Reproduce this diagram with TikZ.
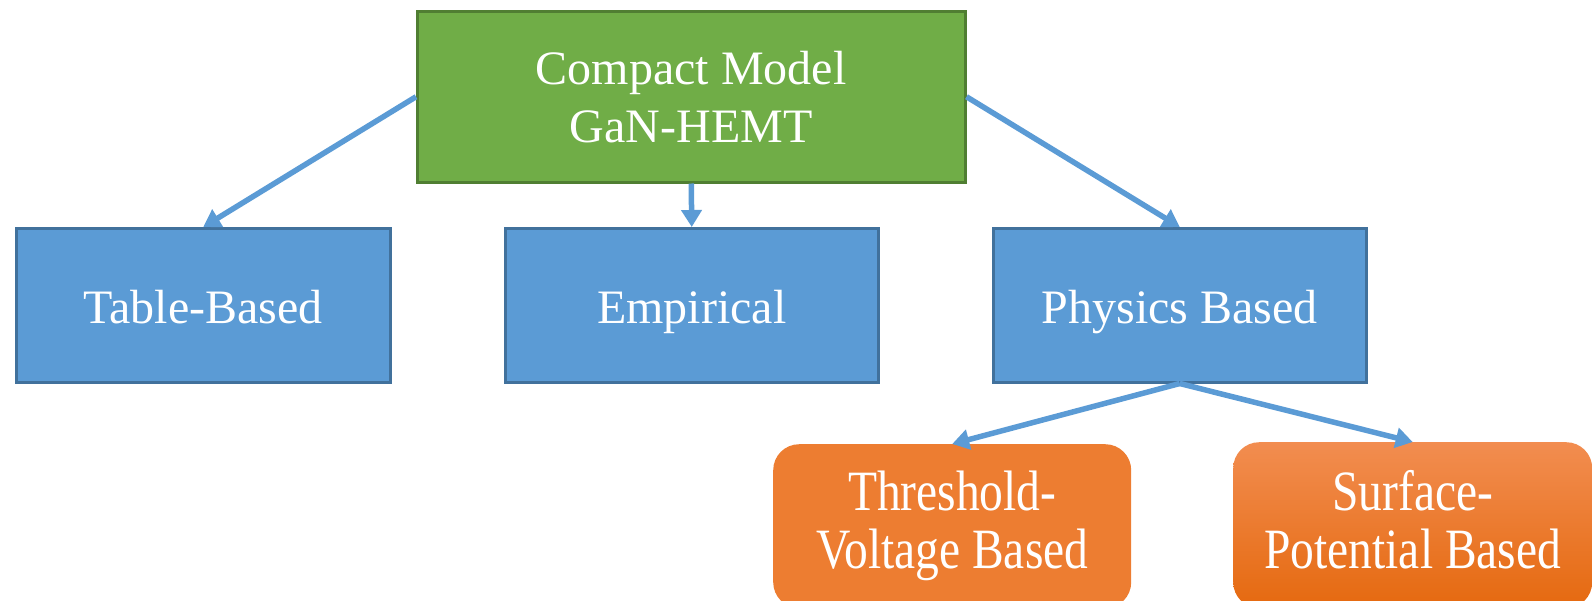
\documentclass[tikz,border=0pt]{standalone}
\usepackage{fontspec}
\setmainfont{Liberation Serif}
\newfontfamily\boxfont{Liberation Serif}
\usetikzlibrary{arrows.meta}
\definecolor{gfill}{HTML}{70AD47}
\definecolor{gline}{HTML}{507E32}
\definecolor{bfill}{HTML}{5B9BD5}
\definecolor{bline}{HTML}{41719C}
\definecolor{ofill}{HTML}{ED7D31}
\definecolor{otop}{HTML}{F28D50}
\definecolor{obot}{HTML}{E5690F}
\begin{document}
\begin{tikzpicture}[x=1pt,y=-1pt,
  box/.style={draw, line width=2.5pt, inner sep=0pt, anchor=north west,
    text=white, align=center, font=\boxfont\fontsize{48}{58}\selectfont},
  greenbox/.style={box, fill=gfill, draw=gline},
  bluebox/.style={box, fill=bfill, draw=bline, text height=40pt, text depth=3pt},
  orangebox/.style={inner sep=0pt, anchor=north west, rounded corners=26pt},
  tallline/.style={anchor=base, inner sep=0pt, text=white,
    font=\boxfont\fontsize{47.5}{58}\selectfont},
  link/.style={draw=bfill, line width=5.5pt,
    -{Triangle[length=17pt,width=20pt]}}]
\useasboundingbox (0,0) rectangle (1593,600);

\node[greenbox, minimum width=548pt, minimum height=171pt] (top) at (416,10)
  {Compact Model\\GaN-HEMT};

\node[bluebox, minimum width=374pt, minimum height=154pt] (tb) at (15,227) {Table-Based};
\node[bluebox, minimum width=373pt, minimum height=154pt] (emp) at (504,227) {Empirical};
\node[bluebox, minimum width=373pt, minimum height=154pt] (phy) at (992,227) {Physics Based};

% rounded boxes of the lower level, their two text lines set on fixed baselines
\node[orangebox, fill=ofill, minimum width=358pt, minimum height=164pt] (thr) at (773,444) {};
\node[orangebox, top color=otop, bottom color=obot, minimum width=359pt, minimum height=166pt]
  (sur) at (1233,442) {};
\coordinate (line1) at (0,510);
\coordinate (line2) at (0,568);
\node[tallline] (thr1) at (thr.center |- line1) {\scalebox{1}[1.2]{Threshold-}};
\node[tallline] (thr2) at (thr.center |- line2) {\scalebox{1}[1.2]{Voltage Based}};
\node[tallline] (sur1) at (sur.center |- line1) {\scalebox{1}[1.2]{Surface-}};
\node[tallline] (sur2) at (sur.center |- line2) {\scalebox{1}[1.2]{Potential Based}};

\draw[link] (top.west) -- (tb.north);
\draw[link] (top.south) -- (emp.north);
\draw[link] (top.east) -- (phy.north);
\draw[link] (phy.south) -- (thr.north);
\draw[link] (phy.south) -- (sur.north);
\end{tikzpicture}
\end{document}
